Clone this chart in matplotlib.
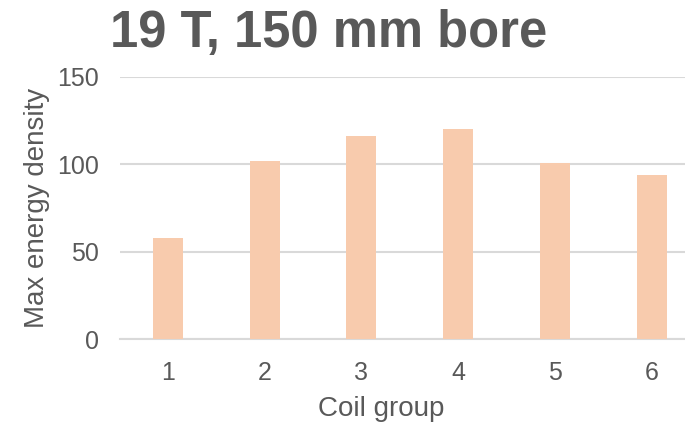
import matplotlib
matplotlib.use('Agg')
import matplotlib.pyplot as plt

# Chart data
groups = ['1', '2', '3', '4', '5', '6']
energy = [58, 101.5, 116, 120, 100.5, 94]

plt.rcParams['font.family'] = ['Liberation Sans', 'DejaVu Sans']

grey = '#595959'
fig = plt.figure(figsize=(6.85, 4.23), dpi=100)
ax = fig.add_axes([0.1745, 0.198, 0.8475, 0.621])

x = range(len(groups))
ax.bar(x, energy, width=0.31, color='#F8CBAD', zorder=3)
ax.set_xlim(-0.5, len(groups) - 0.5)
ax.set_ylim(0, 150)
ax.set_yticks([0, 50, 100, 150])
ax.set_xticks(list(x))
ax.set_xticklabels(groups)

ax.grid(axis='y', color='#D9D9D9', linewidth=1.5, zorder=0)
for s in ['top', 'right', 'left']:
    ax.spines[s].set_visible(False)
ax.spines['bottom'].set_color('#D9D9D9')
ax.spines['bottom'].set_linewidth(1.5)
ax.tick_params(axis='both', length=0, labelsize=18, labelcolor=grey)
ax.tick_params(axis='x', pad=16)
ax.tick_params(axis='y', pad=15)

ax.set_xlabel('Coil group', fontsize=20, color=grey, labelpad=6)
ax.set_ylabel('Max energy density', fontsize=20, color=grey, labelpad=5)
# the source chart is cropped on the right, so the axis title sits left of the axes centre
ax.xaxis.set_label_coords(0.45, -0.215)

fig.text(0.161, 0.889, '19 T, 150 mm bore', fontsize=36.5, fontweight='bold',
         color=grey, va='baseline', ha='left')

fig.savefig('out.png', dpi=100)
